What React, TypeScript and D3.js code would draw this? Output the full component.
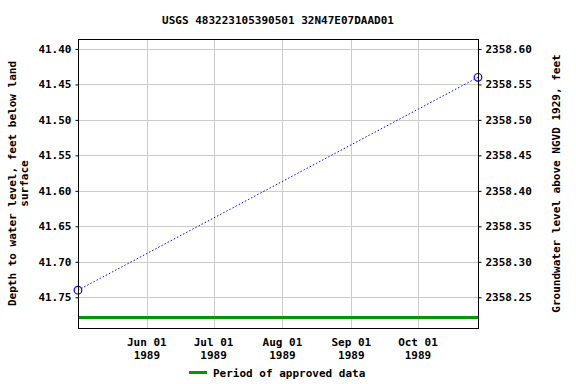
import { useEffect, useRef } from "react";
import * as d3 from "d3";

const title = "USGS 483223105390501 32N47E07DAAD01";
const obsDates = ["1989-05-01", "1989-10-28"];
const depthValues = [41.74, 41.44];
const approvedPeriod = ["1989-05-01", "1989-10-28"];
const leftTicks = [41.4, 41.45, 41.5, 41.55, 41.6, 41.65, 41.7, 41.75];
const rightTicks = [2358.25, 2358.3, 2358.35, 2358.4, 2358.45, 2358.5, 2358.55, 2358.6];
const xTickDates = ["1989-06-01", "1989-07-01", "1989-08-01", "1989-09-01", "1989-10-01"];
const datumOffset = 2400;

const W = 576;
const H = 384;
const FONT = "'DejaVu Sans Mono', monospace";

export default function App() {
  const svgRef = useRef<SVGSVGElement>(null);

  useEffect(() => {
    if (!svgRef.current) return;
    const svg = d3.select(svgRef.current);
    svg.selectAll("*").remove();

    const m = { left: 78, right: 478, top: 39, bottom: 328 };
    const parse = d3.utcParse("%Y-%m-%d");

    const x = d3.scaleUtc()
      .domain([parse(obsDates[0])!, parse(obsDates[1])!])
      .range([m.left, m.right]);
    const y = d3.scaleLinear()
      .domain([41.386, 41.7933])
      .range([m.top, m.bottom]);
    const y2 = d3.scaleLinear()
      .domain([datumOffset - 41.386, datumOffset - 41.7933])
      .range([m.top, m.bottom]);

    // grid
    const grid = svg.append("g").attr("stroke", "#cccccc").attr("stroke-width", 1);
    leftTicks.forEach(t => {
      grid.append("line")
        .attr("x1", m.left).attr("x2", m.right)
        .attr("y1", Math.round(y(t)) + 0.5).attr("y2", Math.round(y(t)) + 0.5);
    });
    xTickDates.forEach(d => {
      const xx = Math.round(x(parse(d)!)) + 0.5;
      grid.append("line")
        .attr("x1", xx).attr("x2", xx)
        .attr("y1", m.top).attr("y2", m.bottom);
    });

    // approved period bar
    svg.append("line")
      .attr("x1", x(parse(approvedPeriod[0])!))
      .attr("x2", x(parse(approvedPeriod[1])!))
      .attr("y1", 317.5).attr("y2", 317.5)
      .attr("stroke", "#009900")
      .attr("stroke-width", 3);

    // data line
    const pts = obsDates.map((d, i) => ({ date: parse(d)!, v: depthValues[i] }));
    const line = d3.line<{ date: Date; v: number }>()
      .x(d => x(d.date))
      .y(d => y(d.v));
    svg.append("path")
      .datum(pts)
      .attr("d", line)
      .attr("fill", "none")
      .attr("stroke", "#0000ff")
      .attr("stroke-width", 1)
      .attr("stroke-dasharray", "1.5,2");
    svg.selectAll("circle.pt")
      .data(pts)
      .enter()
      .append("circle")
      .attr("cx", d => x(d.date))
      .attr("cy", d => y(d.v))
      .attr("r", 3.8)
      .attr("fill", "none")
      .attr("stroke", "#0000ff")
      .attr("stroke-width", 1.2);

    // frame
    svg.append("rect")
      .attr("x", m.left + 0.5).attr("y", m.top + 0.5)
      .attr("width", m.right - m.left).attr("height", m.bottom - m.top)
      .attr("fill", "none").attr("stroke", "#000").attr("stroke-width", 1);

    // left axis
    const la = svg.append("g").attr("transform", `translate(${m.left + 0.5},0)`)
      .call(d3.axisLeft(y).tickValues(leftTicks).tickSize(3).tickFormat(d3.format(".2f")));
    la.select(".domain").remove();
    la.selectAll("text").attr("font-family", FONT).attr("font-size", 11)
      .attr("font-weight", "bold").attr("fill", "#000").attr("x", -7);

    // right axis
    const ra = svg.append("g").attr("transform", `translate(${m.right + 0.5},0)`)
      .call(d3.axisRight(y2).tickValues(rightTicks).tickSize(3).tickFormat(d3.format(".2f")));
    ra.select(".domain").remove();
    ra.selectAll("text").attr("font-family", FONT).attr("font-size", 11)
      .attr("font-weight", "bold").attr("fill", "#000").attr("x", 7);

    // x axis
    const xa = svg.append("g").attr("transform", `translate(0,${m.bottom + 0.5})`)
      .call(d3.axisBottom(x).tickValues(xTickDates.map(d => parse(d)!)).tickSize(0).tickFormat(() => ""));
    xa.select(".domain").remove();
    xTickDates.forEach(d => {
      const xx = x(parse(d)!);
      const t = svg.append("text")
        .attr("x", xx).attr("text-anchor", "middle")
        .attr("font-family", FONT).attr("font-size", 11).attr("font-weight", "bold");
      t.append("tspan").attr("x", xx).attr("y", 346).text(d3.utcFormat("%b %d")(parse(d)!));
      t.append("tspan").attr("x", xx).attr("y", 359).text(d3.utcFormat("%Y")(parse(d)!));
    });

    // title
    svg.append("text")
      .attr("x", 278).attr("y", 24).attr("text-anchor", "middle")
      .attr("font-family", FONT).attr("font-size", 11).attr("font-weight", "bold")
      .text(title);

    // left label
    const ll = svg.append("text")
      .attr("transform", `translate(16,${(m.top + m.bottom) / 2}) rotate(-90)`)
      .attr("text-anchor", "middle")
      .attr("font-family", FONT).attr("font-size", 11).attr("font-weight", "bold");
    ll.append("tspan").attr("x", 0).attr("y", 0).text("Depth to water level, feet below land");
    ll.append("tspan").attr("x", 0).attr("y", 12).text("surface");

    // right label
    svg.append("text")
      .attr("transform", `translate(560,${(m.top + m.bottom) / 2}) rotate(-90)`)
      .attr("text-anchor", "middle")
      .attr("font-family", FONT).attr("font-size", 11).attr("font-weight", "bold")
      .text("Groundwater level above NGVD 1929, feet");

    // legend
    svg.append("line")
      .attr("x1", 189).attr("x2", 207).attr("y1", 372.5).attr("y2", 372.5)
      .attr("stroke", "#009900").attr("stroke-width", 3);
    svg.append("text")
      .attr("x", 213).attr("y", 377)
      .attr("font-family", FONT).attr("font-size", 11).attr("font-weight", "bold")
      .text("Period of approved data");
  }, []);

  return (
    <svg
      ref={svgRef}
      width={W}
      height={H}
      style={{ position: "absolute", left: 0, top: 0, background: "#fff" }}
    />
  );
}
